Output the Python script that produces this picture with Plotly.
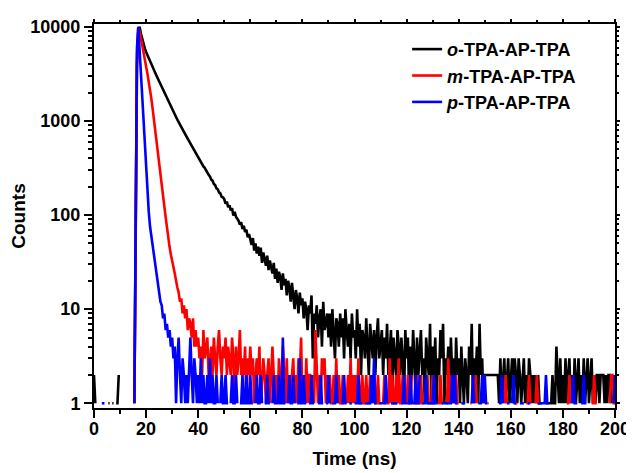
import plotly.graph_objects as go

# ---- time axis (channel grid) ----
time_start_ns = 0.0
time_step_ns = 0.5
n_channels = 401
time_ns = [time_start_ns + i * time_step_ns for i in range(n_channels)]

# ---- o-TPA-AP-TPA (black) counts, rows of 10 ns ----
o_counts = (
    [2, 1, 0, 0, 0, 0, 0, 0, 0, 0, 0, 1, 1, 0, 1, 1, 0, 1, 1, 2] +
    [0, 0, 0, 0, 0, 0, 0, 0, 0, 0, 0, 1, 200, 4000, 9000, 10000, 8500, 7400, 6600, 5900] +
    [5400, 5000, 4600, 4300, 4000, 3700, 3470, 3240, 3020, 2820, 2630, 2450, 2290, 2140, 2000, 1860, 1740, 1620, 1510, 1410] +
    [1320, 1240, 1170, 1100, 1030, 970, 910, 860, 810, 765, 720, 680, 645, 610, 575, 545, 515, 485, 460, 430] +
    [410, 390, 368, 352, 328, 318, 296, 284, 268, 258, 238, 232, 214, 208, 192, 188, 174, 170, 156, 154] +
    [148, 132, 139, 121, 127, 112, 118, 99, 108, 96, 92, 87, 79, 84, 71, 77, 66, 70, 58, 63] +
    [55, 48, 57, 42, 50, 39, 46, 37, 45, 31, 40, 34, 29, 37, 26, 33, 28, 24, 31, 21] +
    [27, 19, 25, 22, 16, 24, 18, 21, 14, 20, 17, 12, 19, 14, 10, 16, 13, 9, 15, 11] +
    [13, 8, 12, 10, 6, 11, 9, 14, 3, 9, 7, 11, 5, 8, 10, 4, 12, 6, 7, 9] +
    [5, 9, 4, 10, 6, 3, 8, 7, 4, 9, 5, 8, 3, 10, 6, 4, 7, 3, 9, 5] +
    [6, 3, 10, 4, 7, 2, 6, 5, 3, 8, 4, 2, 7, 5, 3, 6, 2, 5, 8, 3] +
    [4, 6, 2, 5, 3, 7, 2, 4, 6, 1, 5, 3, 2, 6, 4, 2, 5, 3, 1, 6] +
    [3, 5, 1, 4, 2, 6, 3, 1, 5, 2, 4, 6, 2, 3, 1, 5, 3, 2, 7, 1] +
    [4, 2, 5, 1, 3, 2, 6, 3, 7, 1, 3, 2, 4, 1, 5, 2, 3, 1, 5, 2] +
    [3, 1, 4, 2, 1, 3, 2, 1, 4, 2, 7, 1, 3, 2, 4, 1, 7, 2, 3, 1] +
    [2, 2, 2, 2, 2, 2, 2, 2, 2, 2, 2, 1, 3, 1, 2, 3, 1, 2, 3, 1] +
    [2, 3, 1, 3, 2, 1, 3, 2, 1, 2, 3, 1, 2, 1, 3, 2, 1, 2, 1, 2] +
    [1, 2, 1, 1, 1, 0, 0, 1, 1, 1, 1, 1, 2, 1, 1, 4, 2, 1, 3, 1] +
    [2, 1, 3, 1, 2, 3, 1, 2, 1, 3, 1, 2, 3, 1, 2, 1, 3, 1, 2, 3] +
    [1, 2, 3, 1, 2, 1, 2, 2, 1, 2, 2, 2, 1, 2, 1, 2, 2, 1, 2, 1] +
    [2]
)

# ---- m-TPA-AP-TPA (red) counts ----
m_counts = (
    [0, 0, 0, 0, 0, 0, 0, 0, 0, 0, 0, 0, 0, 0, 0, 0, 0, 0, 0, 0] +
    [0, 0, 0, 0, 0, 0, 0, 0, 0, 0, 0, 1, 250, 5000, 9800, 8900, 7600, 6500, 5400, 4500] +
    [3800, 3200, 2600, 2200, 1740, 1350, 1050, 810, 630, 500, 380, 295, 220, 166, 124, 95, 72, 55, 46, 38] +
    [31, 28, 24, 19, 17, 15, 12, 13, 9, 11, 8, 10, 6, 8, 7, 5, 8, 4, 6, 4] +
    [5, 3, 4, 2, 6, 3, 4, 5, 2, 3, 4, 2, 5, 3, 2, 4, 6, 3, 2, 4] +
    [3, 5, 2, 4, 3, 2, 5, 3, 1, 4, 2, 3, 6, 2, 3, 2, 4, 1, 3, 2] +
    [4, 2, 3, 1, 2, 3, 2, 4, 1, 2, 3, 2, 1, 2, 3, 1, 2, 4, 2, 1] +
    [2, 1, 3, 2, 1, 4, 2, 1, 3, 1, 2, 1, 2, 3, 1, 2, 1, 3, 2, 5] +
    [1, 2, 1, 3, 1, 2, 2, 1, 2, 1, 6, 2, 1, 2, 1, 3, 2, 3, 1, 2] +
    [1, 2, 1, 1, 2, 1, 3, 1, 2, 1, 1, 2, 1, 0, 1, 2, 1, 3, 1, 2] +
    [1, 2, 1, 3, 1, 1, 2, 1, 1, 2, 1, 1, 2, 0, 1, 2, 1, 1, 2, 1] +
    [1, 0, 1, 2, 1, 1, 1, 3, 1, 2, 1, 1, 2, 1, 3, 1, 1, 2, 1, 0] +
    [1, 2, 1, 1, 2, 0, 1, 1, 2, 1, 1, 2, 1, 1, 0, 1, 2, 1, 1, 1] +
    [2, 1, 1, 0, 1, 1, 2, 1, 1, 0, 1, 1, 3, 1, 2, 1, 0, 1, 2, 1] +
    [1, 0, 0, 1, 1, 0, 1, 0, 0, 1, 1, 0, 1, 2, 1, 0, 0, 1, 0, 1] +
    [0, 0, 1, 1, 0, 0, 0, 1, 0, 0, 0, 0, 0, 0, 0, 1, 2, 1, 0, 0] +
    [0, 0, 0, 1, 1, 1, 0, 0, 0, 0, 0, 0, 1, 1, 2, 1, 0, 0, 0, 1] +
    [2, 1, 1, 0, 0, 0, 0, 0, 0, 0, 0, 0, 0, 0, 0, 0, 1, 0, 0, 0] +
    [1, 0, 0, 1, 1, 2, 1, 0, 0, 0, 0, 1, 0, 0, 0, 0, 0, 0, 0, 0] +
    [0, 0, 1, 1, 2, 1, 1, 0, 0, 0, 0, 0, 0, 0, 0, 0, 1, 2, 2, 1] +
    [1]
)

# ---- p-TPA-AP-TPA (blue) counts ----
p_counts = (
    [0, 0, 0, 0, 0, 0, 1, 1, 1, 0, 0, 0, 0, 0, 0, 0, 0, 0, 0, 0] +
    [0, 0, 0, 0, 0, 0, 0, 0, 0, 0, 0, 1, 300, 6000, 10000, 5600, 3200, 1800, 1000, 570] +
    [330, 190, 110, 76, 60, 48, 39, 30, 23, 19, 15, 12, 11, 8, 9, 6, 7, 5, 6, 4] +
    [5, 3, 4, 1, 3, 5, 2, 1, 3, 2, 1, 2, 1, 3, 5, 2, 1, 3, 2, 1] +
    [2, 1, 3, 1, 2, 1, 1, 2, 1, 3, 1, 2, 1, 1, 2, 1, 0, 1, 2, 1] +
    [1, 2, 1, 1, 0, 1, 2, 1, 1, 2, 1, 0, 1, 1, 2, 1, 1, 2, 1, 1] +
    [2, 1, 1, 0, 1, 2, 1, 1, 2, 1, 0, 1, 1, 2, 1, 1, 0, 1, 2, 1] +
    [1, 1, 2, 1, 1, 5, 1, 1, 0, 1, 2, 1, 1, 2, 1, 0, 1, 1, 3, 1] +
    [1, 2, 1, 1, 0, 1, 1, 2, 1, 1, 0, 0, 1, 1, 2, 1, 1, 0, 1, 1] +
    [2, 1, 0, 1, 1, 1, 2, 1, 0, 0, 1, 1, 2, 1, 1, 0, 1, 1, 1, 0] +
    [1, 1, 1, 2, 1, 1, 1, 0, 1, 1, 1, 1, 1, 2, 1, 3, 1, 1, 0, 1] +
    [1, 1, 1, 1, 2, 1, 0, 0, 1, 1, 1, 1, 1, 1, 0, 0, 1, 1, 2, 1] +
    [1, 1, 1, 2, 1, 1, 1, 2, 1, 1, 2, 0, 1, 1, 1, 2, 1, 1, 1, 1] +
    [1, 2, 1, 1, 1, 0, 0, 1, 1, 1, 1, 1, 1, 1, 1, 2, 1, 2, 1, 1] +
    [0, 0, 1, 1, 1, 1, 0, 0, 0, 0, 1, 2, 1, 0, 0, 1, 1, 1, 2, 1] +
    [2, 1, 1, 0, 0, 0, 0, 0, 0, 0, 0, 1, 1, 2, 1, 0, 0, 1, 1, 1] +
    [0, 1, 2, 1, 1, 0, 0, 1, 1, 1, 1, 0, 0, 1, 1, 1, 0, 0, 0, 0] +
    [0, 1, 1, 1, 1, 1, 1, 2, 1, 1, 0, 0, 0, 0, 0, 0, 0, 0, 0, 0] +
    [0, 0, 0, 0, 0, 0, 0, 1, 2, 1, 1, 1, 0, 0, 1, 1, 2, 1, 1, 0] +
    [0, 0, 0, 0, 0, 0, 0, 0, 0, 0, 0, 0, 0, 0, 0, 0, 0, 0, 0, 1] +
    [2]
)

series_names = ["<i>o</i>-TPA-AP-TPA", "<i>m</i>-TPA-AP-TPA", "<i>p</i>-TPA-AP-TPA"]
series_colors = ["#000000", "#ff0000", "#0000ff"]
series_values = [o_counts, m_counts, p_counts]

x_ticks = [0, 20, 40, 60, 80, 100, 120, 140, 160, 180, 200]
y_ticks = [1, 10, 100, 1000, 10000]
y_tick_labels = ["1", "10", "100", "1000", "10000"]
y_minor = [m * 10 ** k for k in range(4) for m in range(2, 10)]

FONT = "Liberation Sans, Arial, sans-serif"

fig = go.Figure()
for name, color, vals in zip(series_names, series_colors, series_values):
    assert len(vals) == n_channels, (name, len(vals))
    fig.add_trace(go.Scatter(
        x=time_ns, y=[v if v > 0 else None for v in vals],
        mode="lines", name=name, line=dict(color=color, width=2.6),
        connectgaps=False,
    ))

# helper trace for mirrored (top/right) axes
fig.add_trace(go.Scatter(x=[None], y=[None], xaxis="x2", yaxis="y2",
                         showlegend=False, hoverinfo="skip"))

axis_common = dict(showline=True, linewidth=2, linecolor="black", showgrid=False,
                   zeroline=False, tickcolor="black", tickwidth=2, automargin=False)

# page body has an 8px margin, so the figure is sized to fit the 634x473 window
fig.update_layout(
    width=626, height=465,
    margin=dict(l=86, r=19, t=16, b=65),
    paper_bgcolor="white", plot_bgcolor="white",
    font=dict(family=FONT, size=18, color="black", weight="bold"),
    showlegend=True,
    legend=dict(x=0.601, y=0.982, xanchor="left", yanchor="top",
                bgcolor="rgba(0,0,0,0)", font=dict(family=FONT, size=18, weight="bold"),
                tracegroupgap=0),
    xaxis=dict(range=[0, 200], tickvals=x_ticks, ticks="outside", ticklen=8,
               ticklabelstandoff=-5,
               minor=dict(dtick=10, tick0=0, ticks="outside", ticklen=4, tickwidth=2, tickcolor="black"),
               title=dict(text="Time (ns)", font=dict(size=19, family=FONT, weight="bold"), standoff=14),
               tickfont=dict(size=18, family=FONT, weight="bold"),
               **axis_common),
    yaxis=dict(type="log", range=[-0.05, 4.03], tickvals=y_ticks, ticktext=y_tick_labels,
               ticks="outside", ticklen=8,
               minor=dict(tickmode="array", tickvals=y_minor, ticks="outside", ticklen=4, tickwidth=2, tickcolor="black"),
               title=dict(text="Counts", font=dict(size=19, family=FONT, weight="bold"), standoff=0),
               tickfont=dict(size=18, family=FONT, weight="bold"),
               **axis_common),
    xaxis2=dict(overlaying="x", side="top", range=[0, 200], tickvals=x_ticks, ticks="outside",
                ticklen=3, showticklabels=False, anchor="y",
                minor=dict(dtick=10, tick0=0, ticks="outside", ticklen=2, tickwidth=2, tickcolor="black"),
                **axis_common),
    yaxis2=dict(overlaying="y", side="right", type="log", range=[-0.05, 4.03], tickvals=y_ticks,
                ticks="outside", ticklen=3, showticklabels=False, anchor="x",
                minor=dict(tickmode="array", tickvals=y_minor, ticks="outside", ticklen=2, tickwidth=2, tickcolor="black"),
                **axis_common),
)

fig.write_html("out.html")
